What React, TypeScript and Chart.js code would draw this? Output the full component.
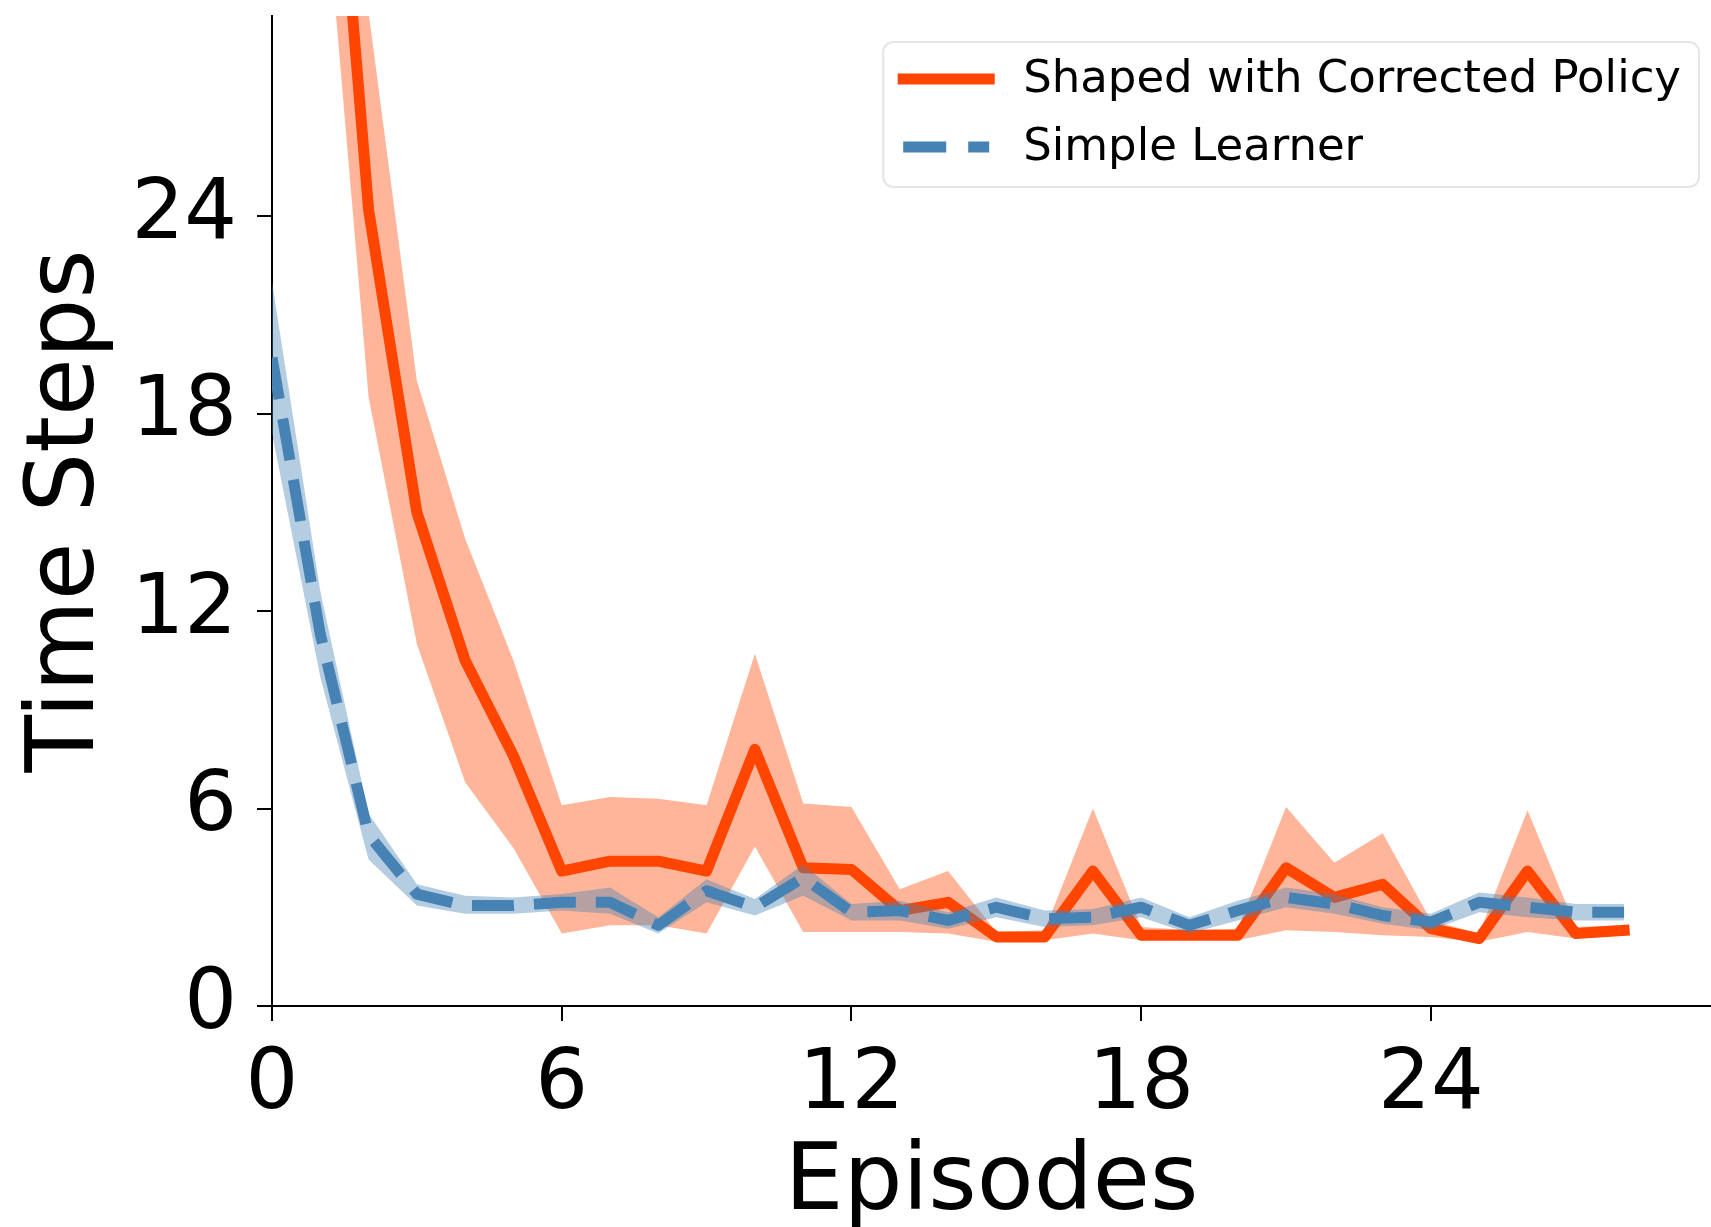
import React, { useEffect, useRef } from 'react';
import { Chart, registerables } from 'chart.js';

Chart.register(...registerables);

// ---------- data ----------
const episodes = [0, 1, 2, 3, 4, 5, 6, 7, 8, 9, 10, 11, 12, 13, 14, 15, 16, 17, 18, 19, 20, 21, 22, 23, 24, 25, 26, 27, 28];

const shapedMean = [60, 42, 24.2, 15.0, 10.5, 7.6, 4.1, 4.4, 4.4, 4.1, 7.8, 4.2, 4.15, 2.9, 3.15, 2.1, 2.1, 4.1, 2.15, 2.15, 2.15, 4.2, 3.3, 3.7, 2.35, 2.05, 4.1, 2.2, 2.3];
const shapedUpper = [68, 48.3, 30.2, 19.0, 14.2, 10.5, 6.1, 6.35, 6.3, 6.1, 10.7, 6.15, 6.05, 3.55, 4.1, 2.25, 2.3, 6.0, 2.4, 2.3, 2.35, 6.05, 4.35, 5.25, 2.6, 2.2, 5.95, 2.4, 2.45];
const shapedLower = [52, 35.7, 18.5, 11.0, 6.8, 4.8, 2.2, 2.45, 2.45, 2.2, 4.85, 2.25, 2.25, 2.25, 2.2, 1.95, 2.0, 2.2, 2.0, 2.05, 2.0, 2.3, 2.25, 2.15, 2.1, 1.95, 2.25, 2.05, 2.15];

const simpleMean = [19.7, 11.3, 5.2, 3.4, 3.05, 3.05, 3.15, 3.15, 2.45, 3.5, 3.0, 3.9, 2.85, 2.9, 2.6, 3.0, 2.65, 2.7, 3.0, 2.45, 2.9, 3.3, 3.1, 2.75, 2.55, 3.15, 3.0, 2.85, 2.85];
const simpleUpper = [22.0, 12.6, 5.85, 3.7, 3.35, 3.3, 3.4, 3.6, 2.7, 3.85, 3.25, 4.3, 3.1, 3.2, 2.85, 3.3, 2.9, 2.95, 3.3, 2.7, 3.2, 3.6, 3.4, 3.0, 2.8, 3.45, 3.3, 3.1, 3.1];
const simpleLower = [17.4, 10.0, 4.45, 3.05, 2.8, 2.8, 2.9, 2.8, 2.2, 3.15, 2.75, 3.35, 2.6, 2.6, 2.35, 2.7, 2.4, 2.45, 2.7, 2.2, 2.6, 3.0, 2.8, 2.5, 2.3, 2.85, 2.7, 2.6, 2.6];

const seriesNames = ['Shaped with Corrected Policy', 'Simple Learner'];
const xTickValues = [0, 6, 12, 18, 24];
const xTickLabels = ['0', '6', '12', '18', '24'];
const yTickValues = [0, 6, 12, 18, 24];
const yTickLabels = ['0', '6', '12', '18', '24'];
const xTitle = 'Episodes';
const yTitle = 'Time Steps';

// ---------- style ----------
const FONT = "'DejaVu Sans', 'Liberation Sans', sans-serif";
const ORANGE = '#FF4500';
const ORANGE_BAND = 'rgba(255,69,0,0.4)';
const BLUE = '#4682B4';
const BLUE_BAND = 'rgba(70,130,180,0.4)';
const W = 1711;
const H = 1227;

const pts = (arr: number[]) => episodes.map((x, i) => ({ x, y: arr[i] }));

const insetLegend = {
  id: 'insetLegend',
  afterDraw(chart: any) {
    const { ctx, chartArea } = chart;
    const items = chart.data.datasets
      .filter((d: any) => d.inLegend)
      .sort((a: any, b: any) => seriesNames.indexOf(a.label) - seriesNames.indexOf(b.label));
    ctx.save();
    ctx.font = `45px ${FONT}`;
    const textW = Math.max(...items.map((d: any) => ctx.measureText(d.label).width));
    const boxW = 140 + textW + 18;
    const boxH = 145;
    const right = chartArea.right - 12;
    const top = chartArea.top + 26;
    const left = right - boxW;
    ctx.beginPath();
    ctx.roundRect(left, top, boxW, boxH, 10);
    ctx.fillStyle = 'rgba(255,255,255,0.8)';
    ctx.fill();
    ctx.lineWidth = 2;
    ctx.strokeStyle = 'rgba(204,204,204,0.5)';
    ctx.stroke();
    items.forEach((d: any, i: number) => {
      const cy = top + 37 + i * 68;
      ctx.beginPath();
      ctx.moveTo(left + 20, cy);
      ctx.lineTo(left + 106, cy);
      ctx.strokeStyle = d.borderColor;
      ctx.lineWidth = d.borderWidth;
      ctx.lineCap = d.borderCapStyle || 'butt';
      ctx.setLineDash(d.borderDash ? [43, 22] : []);
      ctx.stroke();
      ctx.setLineDash([]);
      ctx.fillStyle = '#000';
      ctx.textBaseline = 'middle';
      ctx.textAlign = 'left';
      ctx.fillText(d.label, left + 140, cy + 1);
    });
    ctx.restore();
  },
};

export default function App() {
  const ref = useRef<HTMLCanvasElement | null>(null);

  useEffect(() => {
    if (!ref.current) return;
    const chart = new Chart(ref.current, {
      type: 'line',
      data: {
        datasets: [
          {
            label: seriesNames[1],
            inLegend: true,
            data: pts(simpleMean),
            borderColor: BLUE,
            borderWidth: 11,
            borderDash: [42, 20],
            borderCapStyle: 'butt',
            borderJoinStyle: 'round',
            fill: false,
            order: 0,
            clip: 0,
          } as any,
          {
            label: '_simpleUpper',
            data: pts(simpleUpper),
            borderColor: 'rgba(0,0,0,0)',
            borderWidth: 0,
            fill: false,
            order: 1,
            clip: 0,
          } as any,
          {
            label: '_simpleLower',
            data: pts(simpleLower),
            borderColor: 'rgba(0,0,0,0)',
            borderWidth: 0,
            backgroundColor: BLUE_BAND,
            fill: '-1',
            order: 1,
            clip: 0,
          } as any,
          {
            label: seriesNames[0],
            inLegend: true,
            data: pts(shapedMean),
            borderColor: ORANGE,
            borderWidth: 11,
            borderCapStyle: 'square',
            borderJoinStyle: 'round',
            fill: false,
            order: 2,
            clip: 0,
          } as any,
          {
            label: '_shapedUpper',
            data: pts(shapedUpper),
            borderColor: 'rgba(0,0,0,0)',
            borderWidth: 0,
            fill: false,
            order: 3,
            clip: 0,
          } as any,
          {
            label: '_shapedLower',
            data: pts(shapedLower),
            borderColor: 'rgba(0,0,0,0)',
            borderWidth: 0,
            backgroundColor: ORANGE_BAND,
            fill: '-1',
            order: 3,
            clip: 0,
          } as any,
        ],
      },
      options: {
        animation: false,
        responsive: false,
        maintainAspectRatio: false,
        layout: { padding: { top: 16, right: 0, bottom: 0, left: 0 } },
        elements: { point: { radius: 0, hoverRadius: 0 }, line: { tension: 0 } },
        plugins: {
          legend: { display: false },
          tooltip: { enabled: false },
        },
        scales: {
          x: {
            type: 'linear',
            min: 0,
            max: 29.8,
            afterBuildTicks: (s: any) => {
              s.ticks = xTickValues.map((v) => ({ value: v }));
            },
            afterFit: (s: any) => {
              s.height = H - 1006;
              s.paddingLeft = 0;
              s.paddingRight = 0;
            },
            grid: {
              display: true,
              drawOnChartArea: false,
              drawTicks: true,
              tickLength: 15,
              tickWidth: 2,
              tickColor: '#000',
              color: '#000',
              lineWidth: 2,
            },
            border: { display: true, color: '#000', width: 2 },
            ticks: {
              color: '#000',
              font: { family: FONT, size: 83 },
              padding: 16,
              maxRotation: 0,
              autoSkip: false,
              callback: (v: any) => {
                const i = xTickValues.indexOf(Number(v));
                return i >= 0 ? xTickLabels[i] : '';
              },
            },
            title: {
              display: true,
              text: xTitle,
              color: '#000',
              font: { family: FONT, size: 93, lineHeight: 0.9 },
              padding: { top: 0, bottom: 0 },
            },
          },
          y: {
            type: 'linear',
            min: 0,
            max: 30.08,
            afterBuildTicks: (s: any) => {
              s.ticks = yTickValues.map((v) => ({ value: v }));
            },
            afterFit: (s: any) => {
              s.width = 272;
              s.paddingTop = 0;
              s.paddingBottom = 0;
            },
            grid: {
              display: true,
              drawOnChartArea: false,
              drawTicks: true,
              tickLength: 15,
              tickWidth: 2,
              tickColor: '#000',
              color: '#000',
              lineWidth: 2,
            },
            border: { display: true, color: '#000', width: 2 },
            ticks: {
              color: '#000',
              font: { family: FONT, size: 83 },
              padding: 20,
              autoSkip: false,
              callback: (v: any) => {
                const i = yTickValues.indexOf(Number(v));
                return i >= 0 ? yTickLabels[i] : '';
              },
            },
            title: {
              display: true,
              text: yTitle,
              color: '#000',
              font: { family: FONT, size: 94, lineHeight: 1 },
              padding: { top: 22, bottom: 0 },
            },
          },
        },
      } as any,
      plugins: [insetLegend],
    });
    return () => chart.destroy();
  }, []);

  return (
    <div style={{ position: 'absolute', left: 0, top: 0, width: W, height: H, background: '#fff' }}>
      <canvas ref={ref} width={W} height={H} style={{ display: 'block', width: W, height: H }} />
    </div>
  );
}
